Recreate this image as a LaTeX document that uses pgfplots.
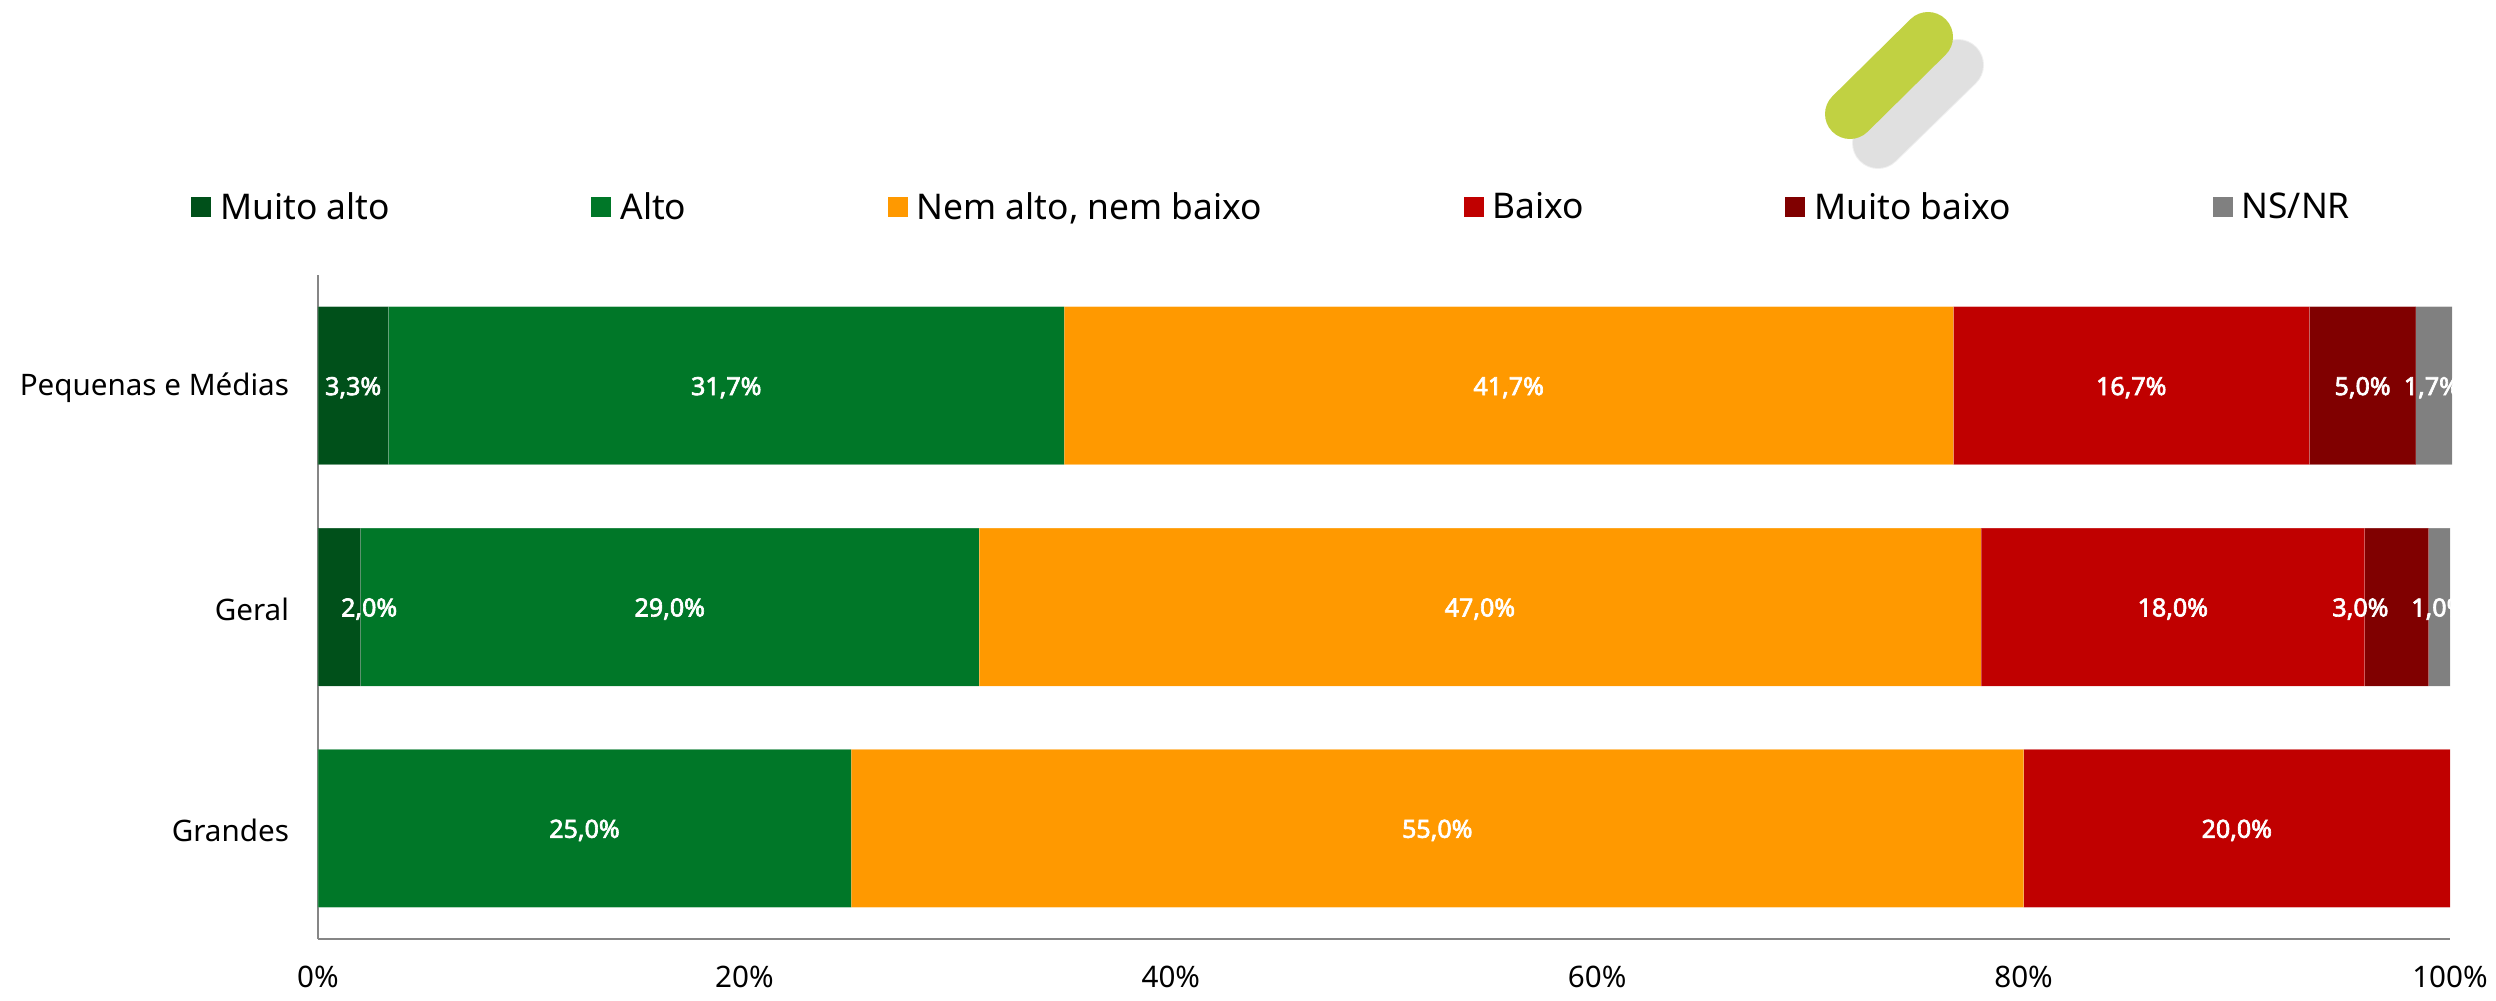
\documentclass[border=0pt]{standalone}
\usepackage{pgfplots}
\usepackage{fontspec}
\setmainfont{Noto Sans}
\newfontfamily\rotulo{Noto Sans}[FakeBold=2.6]
\pgfplotsset{compat=1.18}
\definecolor{mvalto}{HTML}{00501A}
\definecolor{alto}{HTML}{007728}
\definecolor{nem}{HTML}{FF9900}
\definecolor{baixo}{HTML}{C00000}
\definecolor{mvbaixo}{HTML}{800000}
\definecolor{nsnr}{HTML}{808080}
\definecolor{eixo}{HTML}{868686}
\pgfplotsset{
  base/.style={
    at={(159pt,-469.5pt)}, anchor=south west,
    scale only axis, width=1066pt, height=332pt,
    xmin=0, xmax=100, ymin=-0.5, ymax=2.5,
    clip=false,
  },
  seg/.style={fill=#1, draw=white, draw opacity=0.15, line width=0.4pt},
}
\begin{document}
\begin{tikzpicture}
  % page size, 1 px of the reference = 0.5pt
  \path (0,0) rectangle (1248pt,-500.5pt);
  % decoration top right
  \draw[line cap=round, line width=26pt, color=black!6] (939pt,-71.5pt) -- (979pt,-32.5pt);
  \draw[line cap=round, line width=25pt, color=black!12] (939pt,-71.5pt) -- (979pt,-32.5pt);
  \draw[line cap=round, line width=25pt, color={rgb,255:red,193;green,209;blue,66}] (925pt,-57pt) -- (964pt,-18.5pt);

  \begin{axis}[base,
    xbar stacked, bar width=79pt,
    axis lines*=left, axis line style={eixo, line width=0.8pt, -},
    xtick={0,20,40,60,80,100},
    xticklabels={0\%,20\%,40\%,60\%,80\%,100\%},
    ytick={0,1,2},
    yticklabels={Grandes,Geral,Pequenas e Médias},
    major tick length=0pt,
    tick label style={font=\fontsize{14.8}{18}\selectfont},
    yticklabel style={xshift=-11pt, yshift=-1.2pt},
    xticklabel style={yshift=-10pt},
    legend columns=-1,
    legend style={
      at={(-0.0596,1.102)}, anchor=west, draw=none, fill=none,
      inner sep=0pt, font=\fontsize{17.7}{20}\selectfont,
      /tikz/every even column/.append style={column sep=100.7pt},
      /tikz/every odd column/.append style={column sep=4.5pt},
      nodes={inner sep=0pt},
    },
    legend image code/.code={\fill[#1, draw=none] (0pt,-5pt) rectangle (10pt,5pt);},
    legend cell align=left,
  ]
    \addplot[seg=mvalto] coordinates {(3.3,2) (2.0,1) (0,0)};
    \addlegendentry{Muito alto}
    \addplot[seg=alto] coordinates {(31.7,2) (29.0,1) (25.0,0)};
    \addlegendentry{Alto}
    \addplot[seg=nem] coordinates {(41.7,2) (47.0,1) (55.0,0)};
    \addlegendentry{Nem alto, nem baixo}
    \addplot[seg=baixo] coordinates {(16.7,2) (18.0,1) (20.0,0)};
    \addlegendentry{Baixo}
    \addplot[seg=mvbaixo] coordinates {(5.0,2) (3.0,1) (0,0)};
    \addlegendentry{Muito baixo}
    \addplot[seg=nsnr] coordinates {(1.7,2) (1.0,1) (0,0)};
    \addlegendentry{NS/NR}
  \end{axis}

  % value labels: second axis so they sit above every segment
  \begin{axis}[base, hide axis]
    \addplot[only marks, mark=*, mark size=0pt, draw=none,
      point meta=explicit,
      nodes near coords={\pgfmathprintnumber[fixed, fixed zerofill, precision=1, use comma, assume math mode=true]{\pgfplotspointmeta}\%},
      every node near coord/.append style={anchor=center, text=white, yshift=-1pt,
        font=\rotulo\fontsize{12.5}{15}\selectfont, inner sep=0pt},
    ] table[x=x, y=y, meta=v] {
      x     y  v
      1.65  2  3.3
      19.15 2  31.7
      55.85 2  41.7
      85.05 2  16.7
      95.9  2  5.0
      99.15 2  1.7
      2.4   1  2.0
      16.5  1  29.0
      54.5  1  47.0
      87.0  1  18.0
      95.8  1  3.0
      99.5  1  1.0
      12.5  0  25.0
      52.5  0  55.0
      90.0  0  20.0
    };
  \end{axis}
\end{tikzpicture}
\end{document}
